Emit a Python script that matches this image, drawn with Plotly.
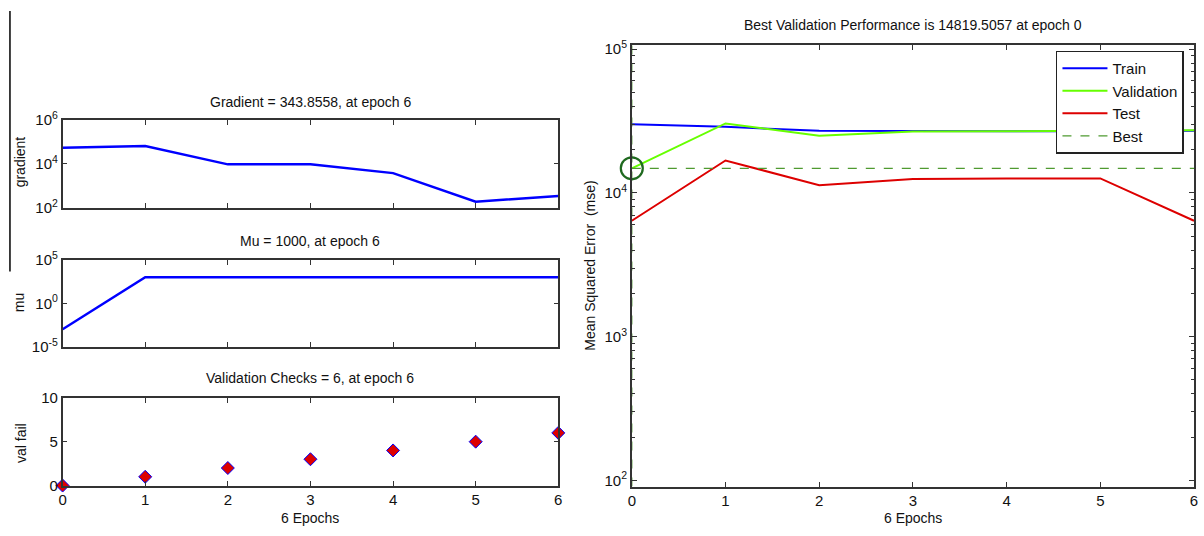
import plotly.graph_objects as go

# ---- data ----
epochs = [0, 1, 2, 3, 4, 5, 6]
gradient = [55000, 65000, 9500, 9500, 3800, 190, 343.8558]
mu = [0.001, 1000, 1000, 1000, 1000, 1000, 1000]
val_fail = [0, 1, 2, 3, 4, 5, 6]
train_mse = [30000, 28800, 27000, 26800, 26800, 26800, 27000]
valid_mse = [14819.5057, 30400, 25000, 26700, 26800, 27000, 27300]
test_mse = [6400, 16800, 11300, 12500, 12600, 12600, 6400]
best_epoch = 0
best_perf = 14819.5057

x_ticks = [0, 1, 2, 3, 4, 5, 6]
grad_ticks = [1e2, 1e4, 1e6]
grad_labels = ["10<sup>2</sup>", "10<sup>4</sup>", "10<sup>6</sup>"]
mu_ticks = [1e-5, 1, 1e5]
mu_labels = ["10<sup>-5</sup>", "10<sup>0</sup>", "10<sup>5</sup>"]
vf_ticks = [0, 5, 10]
mse_ticks = [1e2, 1e3, 1e4, 1e5]
mse_labels = ["10<sup>2</sup>", "10<sup>3</sup>", "10<sup>4</sup>", "10<sup>5</sup>"]
mse_minor = [m * d for d in [1e1, 1e2, 1e3, 1e4] for m in range(2, 10)]

FONT = "Liberation Sans Narrow, Liberation Sans, Arial, sans-serif"
W, H = 1204, 536

def px_x(a, b):
    return [a / W, b / W]

def px_y(top, bot):
    return [1 - bot / H, 1 - top / H]

fig = go.Figure()

BLUE = "#0000ff"
GREEN = "#66ff00"
RED = "#dd0000"
BESTC = "#4f9a30"

fig.add_trace(go.Scatter(x=epochs, y=gradient, mode="lines", line=dict(color=BLUE, width=2.5),
                         xaxis="x", yaxis="y", showlegend=False))
fig.add_trace(go.Scatter(x=epochs, y=mu, mode="lines", line=dict(color=BLUE, width=2.5),
                         xaxis="x2", yaxis="y2", showlegend=False))
fig.add_trace(go.Scatter(x=epochs, y=val_fail, mode="markers",
                         marker=dict(symbol="diamond", size=10, color=RED, line=dict(color=BLUE, width=1)),
                         xaxis="x3", yaxis="y3", showlegend=False, cliponaxis=False))

fig.add_trace(go.Scatter(x=epochs, y=train_mse, mode="lines", name="Train",
                         line=dict(color=BLUE, width=2), xaxis="x4", yaxis="y4"))
fig.add_trace(go.Scatter(x=epochs, y=valid_mse, mode="lines", name="Validation",
                         line=dict(color=GREEN, width=2), xaxis="x4", yaxis="y4"))
fig.add_trace(go.Scatter(x=epochs, y=test_mse, mode="lines", name="Test",
                         line=dict(color=RED, width=2), xaxis="x4", yaxis="y4"))
fig.add_trace(go.Scatter(x=[epochs[0], epochs[-1]], y=[best_perf, best_perf], mode="lines", name="Best",
                         line=dict(color=BESTC, width=1.2, dash="dash"), xaxis="x4", yaxis="y4"))
fig.add_trace(go.Scatter(x=[best_epoch, best_epoch], y=[10 ** 1.958, 10 ** 5.03], mode="lines",
                         line=dict(color=BESTC, width=1.2, dash="dash"), xaxis="x4", yaxis="y4",
                         showlegend=False))
fig.add_trace(go.Scatter(x=[best_epoch], y=[best_perf], mode="markers",
                         marker=dict(symbol="circle-open", size=22, color="#1f6a1f", line=dict(width=2.2)),
                         xaxis="x4", yaxis="y4", showlegend=False, cliponaxis=False))

axis_common = dict(showgrid=False, zeroline=False, showline=True, linecolor="#333333", linewidth=1.5,
                   mirror="ticks", ticks="inside", ticklen=5, tickcolor="#333333",
                   tickfont=dict(family=FONT, size=15, color="#111111"))

lx = px_x(59, 558)
fig.update_layout(
    xaxis=dict(domain=lx, anchor="y", range=[0, 6], tickvals=x_ticks, showticklabels=False, **axis_common),
    yaxis=dict(domain=px_y(113, 204), anchor="x", type="log", range=[2, 6], tickvals=grad_ticks,
               ticktext=grad_labels, **axis_common),
    xaxis2=dict(domain=lx, anchor="y2", range=[0, 6], tickvals=x_ticks, showticklabels=False, **axis_common),
    yaxis2=dict(domain=px_y(258, 348), anchor="x2", type="log", range=[-5, 5], tickvals=mu_ticks,
                ticktext=mu_labels, **axis_common),
    xaxis3=dict(domain=lx, anchor="y3", range=[0, 6], tickvals=x_ticks, **axis_common),
    yaxis3=dict(domain=px_y(401, 492), anchor="x3", range=[0, 10], tickvals=vf_ticks, **axis_common),
    xaxis4=dict(domain=px_x(632, 1198), anchor="y4", range=[0, 6], tickvals=x_ticks, **axis_common),
    yaxis4=dict(domain=px_y(35, 493), anchor="x4", type="log", range=[1.958, 5.03], tickvals=mse_ticks,
                ticktext=mse_labels,
                minor=dict(tickvals=mse_minor, ticks="inside", ticklen=3, tickcolor="#333333"),
                **axis_common),
)

ann_font = dict(family=FONT, size=14, color="#111111")
annotations = [
    dict(text="Gradient = 343.8558, at epoch 6", x=(59 + 558) / 2 / W, y=1 - 94 / H),
    dict(text="Mu = 1000, at epoch 6", x=(59 + 558) / 2 / W, y=1 - 238 / H),
    dict(text="Validation Checks = 6, at epoch 6", x=(59 + 558) / 2 / W, y=1 - 381 / H),
    dict(text="6 Epochs", x=(59 + 558) / 2 / W, y=1 - 526 / H),
    dict(text="Best Validation Performance is 14819.5057 at epoch 0", x=(632 + 1198) / 2 / W, y=1 - 14 / H),
    dict(text="6 Epochs", x=(632 + 1198) / 2 / W, y=1 - 526 / H),
    dict(text="gradient", x=17 / W, y=1 - 156 / H, textangle=-90),
    dict(text="mu", x=15 / W, y=1 - 302 / H, textangle=-90),
    dict(text="val fail", x=17 / W, y=1 - 448 / H, textangle=-90),
    dict(text="Mean Squared Error  (mse)", x=590 / W, y=1 - 264 / H, textangle=-90),
]
for a in annotations:
    fig.add_annotation(xref="paper", yref="paper", showarrow=False, font=ann_font,
                       xanchor="center", yanchor="middle", **a)

fig.add_shape(type="line", xref="paper", yref="paper", x0=6 / W, x1=6 / W, y0=1 - 270 / H, y1=1,
              line=dict(color="#000000", width=1.5))

fig.update_layout(
    width=W, height=H, margin=dict(l=0, r=0, t=0, b=0),
    paper_bgcolor="white", plot_bgcolor="white",
    font=dict(family=FONT, size=14, color="#111111"),
    legend=dict(x=1059 / W, y=1 - 41 / H, xanchor="left", yanchor="top",
                bgcolor="white", bordercolor="#222222", borderwidth=1.5,
                font=dict(family=FONT, size=15, color="#111111"),
                tracegroupgap=0, itemwidth=45),
)

fig.write_html("out.html", config={"displayModeBar": False},
               post_script="document.body.style.margin='0';document.body.style.overflow='hidden';")
